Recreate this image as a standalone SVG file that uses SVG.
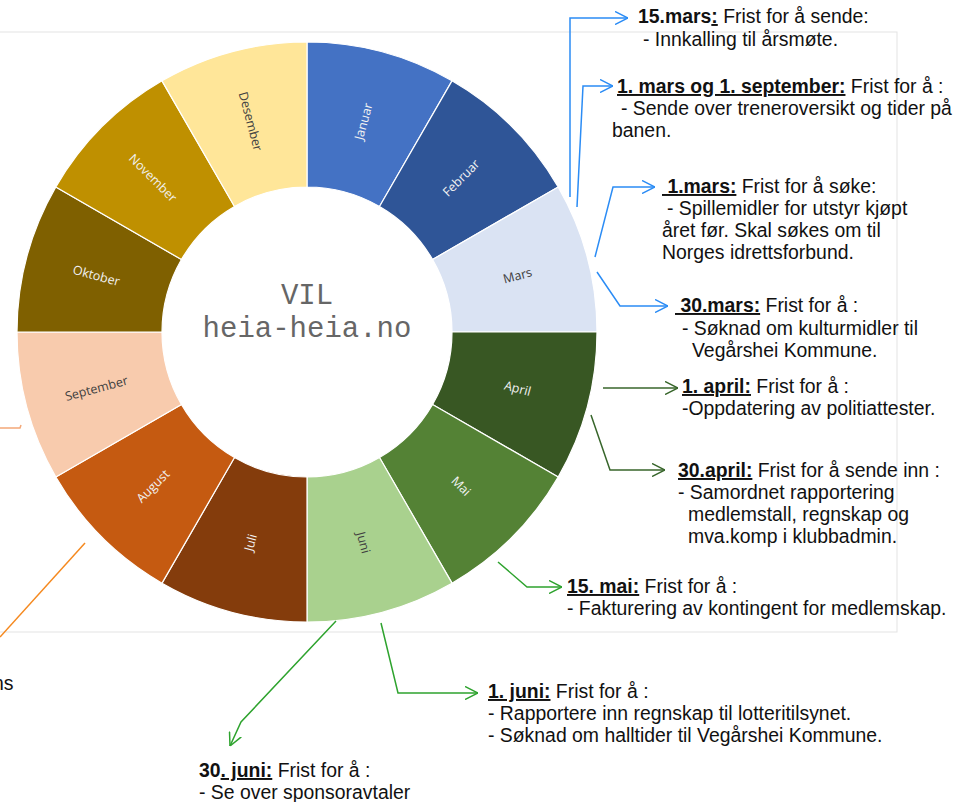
<svg xmlns="http://www.w3.org/2000/svg" width="954" height="802" viewBox="0 0 954 802">
<style>
.seg{stroke:#fff;stroke-width:1.2}
.lbl{font-family:"Open Sans","Noto Sans",sans-serif;font-size:12.5px;text-anchor:middle}
.lw{fill:#F2F2F2}
.ld{fill:#404040}
.ctr{font-family:"Liberation Mono","Courier New",monospace;font-size:29px;fill:#666666;text-anchor:middle}
.t{font-family:"Liberation Sans",Arial,sans-serif;font-size:19.4px;fill:#111}
.b{font-weight:bold}
.u{text-decoration:underline}
.con{fill:none;stroke-width:1.5}
.blue{stroke:#2B8CF5}
.dg{stroke:#38662B}
.g{stroke:#2EA32E}
</style>
<defs>
<marker id="mb" viewBox="0 0 13 14" refX="13" refY="7" markerWidth="13" markerHeight="14" markerUnits="userSpaceOnUse" orient="auto"><path d="M0,0.5 L13,7 L0,13.5" fill="none" stroke="#2B8CF5" stroke-width="1.5"/></marker>
<marker id="mdg" viewBox="0 0 13 14" refX="13" refY="7" markerWidth="13" markerHeight="14" markerUnits="userSpaceOnUse" orient="auto"><path d="M0,0.5 L13,7 L0,13.5" fill="none" stroke="#38662B" stroke-width="1.5"/></marker>
<marker id="mg" viewBox="0 0 13 14" refX="13" refY="7" markerWidth="13" markerHeight="14" markerUnits="userSpaceOnUse" orient="auto"><path d="M0,0.5 L13,7 L0,13.5" fill="none" stroke="#2EA32E" stroke-width="1.5"/></marker>
</defs>
<rect x="0" y="0" width="954" height="802" fill="#fff"/>
<rect id="chartarea" x="-1" y="32" width="898" height="600" fill="none" stroke="#E3E3E3" stroke-width="1"/>

<g id="wheel">
<g id="januar"><path class="seg" fill="#4472C4" d="M307,42 A290,290 0 0 1 452,80.85 L379.5,206.43 A145,145 0 0 0 307,187 Z"/><text class="lbl lw" transform="translate(363.4,121.4) rotate(-75)" dy="0.35em">Januar</text></g>
<g id="februar"><path class="seg" fill="#2F5597" d="M452,80.85 A290,290 0 0 1 558.15,187 L432.57,259.5 A145,145 0 0 0 379.5,206.43 Z"/><text class="lbl lw" transform="translate(461.1,177.9) rotate(-45)" dy="0.35em">Februar</text></g>
<g id="mars"><path class="seg" fill="#DAE3F3" d="M558.15,187 A290,290 0 0 1 597,332 L452,332 A145,145 0 0 0 432.57,259.5 Z"/><text class="lbl ld" transform="translate(517.6,275.6) rotate(-15)" dy="0.35em">Mars</text></g>
<g id="april"><path class="seg" fill="#385723" d="M597,332 A290,290 0 0 1 558.15,477 L432.57,404.5 A145,145 0 0 0 452,332 Z"/><text class="lbl lw" transform="translate(517.6,388.4) rotate(15)" dy="0.35em">April</text></g>
<g id="mai"><path class="seg" fill="#548235" d="M558.15,477 A290,290 0 0 1 452,583.15 L379.5,457.57 A145,145 0 0 0 432.57,404.5 Z"/><text class="lbl lw" transform="translate(461.1,486.1) rotate(45)" dy="0.35em">Mai</text></g>
<g id="juni"><path class="seg" fill="#A9D18E" d="M452,583.15 A290,290 0 0 1 307,622 L307,477 A145,145 0 0 0 379.5,457.57 Z"/><text class="lbl ld" transform="translate(363.4,542.6) rotate(75)" dy="0.35em">Juni</text></g>
<g id="juli"><path class="seg" fill="#843C0C" d="M307,622 A290,290 0 0 1 162,583.15 L234.5,457.57 A145,145 0 0 0 307,477 Z"/><text class="lbl lw" transform="translate(250.6,542.6) rotate(-75)" dy="0.35em">Juli</text></g>
<g id="august"><path class="seg" fill="#C55A11" d="M162,583.15 A290,290 0 0 1 55.85,477 L181.43,404.5 A145,145 0 0 0 234.5,457.57 Z"/><text class="lbl lw" transform="translate(152.9,486.1) rotate(-45)" dy="0.35em">August</text></g>
<g id="september"><path class="seg" fill="#F8CBAD" d="M55.85,477 A290,290 0 0 1 17,332 L162,332 A145,145 0 0 0 181.43,404.5 Z"/><text class="lbl ld" transform="translate(96.4,388.4) rotate(-15)" dy="0.35em">September</text></g>
<g id="oktober"><path class="seg" fill="#7F6000" d="M17,332 A290,290 0 0 1 55.85,187 L181.43,259.5 A145,145 0 0 0 162,332 Z"/><text class="lbl lw" transform="translate(96.4,275.6) rotate(15)" dy="0.35em">Oktober</text></g>
<g id="november"><path class="seg" fill="#BF9000" d="M55.85,187 A290,290 0 0 1 162,80.85 L234.5,206.43 A145,145 0 0 0 181.43,259.5 Z"/><text class="lbl lw" transform="translate(152.9,177.9) rotate(45)" dy="0.35em">November</text></g>
<g id="desember"><path class="seg" fill="#FFE699" d="M162,80.85 A290,290 0 0 1 307,42 L307,187 A145,145 0 0 0 234.5,206.43 Z"/><text class="lbl ld" transform="translate(250.6,121.4) rotate(75)" dy="0.35em">Desember</text></g>
</g>

<g id="center">
<text class="ctr" x="307" y="304">VIL</text>
<text class="ctr" x="307" y="337">heia-heia.no</text>
</g>

<g id="connectors">
<polyline class="con blue" points="570,197 570,18 628,18" marker-end="url(#mb)"/>
<polyline class="con blue" points="577,207 583,86 613,86" marker-end="url(#mb)"/>
<polyline class="con blue" points="595,257 613,187 655,187" marker-end="url(#mb)"/>
<polyline class="con blue" points="597,272 620,306 668,306" marker-end="url(#mb)"/>
<polyline class="con dg" points="603,388 678,388" marker-end="url(#mdg)"/>
<polyline class="con dg" points="591,415 610,470 665,470" marker-end="url(#mdg)"/>
<polyline class="con g" points="498,562 527,587 562,587" marker-end="url(#mg)"/>
<polyline class="con g" points="381,623 398,693 478,693" marker-end="url(#mg)"/>
<polyline class="con g" points="336,621 241,722 230,746" marker-end="url(#mg)"/>
<polyline class="con" stroke="#F4A878" points="0,428 20,428 21,425"/>
<line class="con" stroke="#F5891F" x1="85" y1="543" x2="0" y2="637"/>
</g>

<g id="note-15mars">
<text class="t" x="638" y="23"><tspan class="b">15.mars</tspan><tspan class="b u">:</tspan> Frist for å sende:</text>
<text class="t" x="643" y="46">- Innkalling til årsmøte.</text>
</g>
<g id="note-1mars-1sept">
<text class="t" x="617" y="93"><tspan class="b u">1. mars og 1. september:</tspan> Frist for å :</text>
<text class="t" x="621" y="115">- Sende over treneroversikt og tider på</text>
<text class="t" x="612" y="137">banen.</text>
</g>
<g id="note-1mars">
<text class="t" x="662" y="193" xml:space="preserve" style="white-space:pre"><tspan class="b u"> 1.mars:</tspan> Frist for å søke:</text>
<text class="t" x="667" y="215">- Spillemidler for utstyr kjøpt</text>
<text class="t" x="662" y="237">året før. Skal søkes om til</text>
<text class="t" x="662" y="259">Norges idrettsforbund.</text>
</g>
<g id="note-30mars">
<text class="t" x="675" y="312" xml:space="preserve" style="white-space:pre"><tspan class="b u"> 30.mars:</tspan> Frist for å :</text>
<text class="t" x="682" y="335">- Søknad om kulturmidler til</text>
<text class="t" x="692" y="357">Vegårshei Kommune.</text>
</g>
<g id="note-1april">
<text class="t" x="682" y="393"><tspan class="b u">1. april:</tspan> Frist for å :</text>
<text class="t" x="682" y="415">-Oppdatering av politiattester.</text>
</g>
<g id="note-30april">
<text class="t" x="678" y="477"><tspan class="b u">30.april:</tspan> Frist for å sende inn :</text>
<text class="t" x="678" y="499">- Samordnet rapportering</text>
<text class="t" x="688" y="521">medlemstall, regnskap og</text>
<text class="t" x="688" y="543">mva.komp i klubbadmin.</text>
</g>
<g id="note-15mai">
<text class="t" x="567" y="593"><tspan class="b u">15. mai:</tspan> Frist for å :</text>
<text class="t" x="567" y="615">- Fakturering av kontingent for medlemskap.</text>
</g>
<g id="note-1juni">
<text class="t" x="488" y="698"><tspan class="b u">1. juni:</tspan> Frist for å :</text>
<text class="t" x="488" y="720">- Rapportere inn regnskap til lotteritilsynet.</text>
<text class="t" x="488" y="742">- Søknad om halltider til Vegårshei Kommune.</text>
</g>
<g id="note-30juni">
<text class="t" x="199" y="777"><tspan class="b">30</tspan><tspan class="b u">. juni:</tspan> Frist for å :</text>
<text class="t" x="199" y="799">- Se over sponsoravtaler</text>
</g>
<g id="note-left-partial">
<text class="t" x="-7" y="690">ns</text>
</g>
</svg>
